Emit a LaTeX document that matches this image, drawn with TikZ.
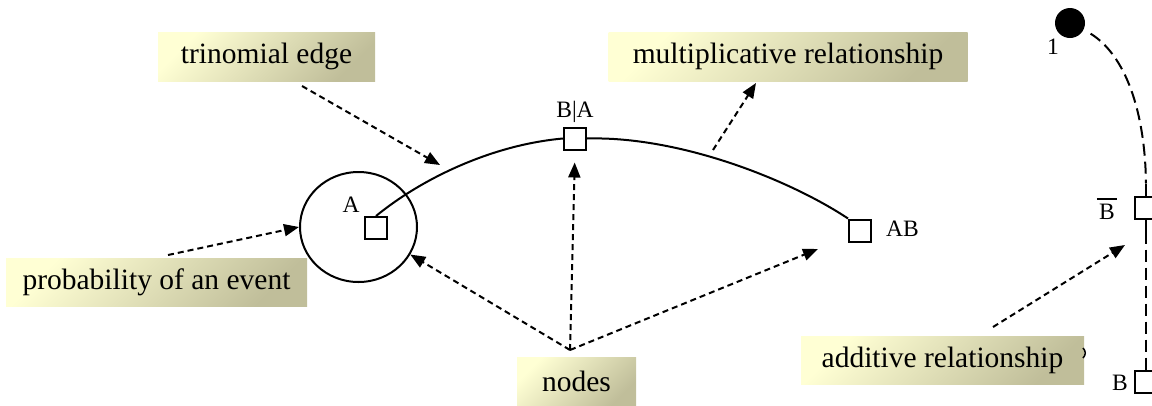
\documentclass[tikz,border=0pt]{standalone}
\usepackage{fontspec}
\setmainfont{Liberation Serif}
\usetikzlibrary{arrows.meta,shapes.geometric}

\definecolor{boxlight}{RGB}{255,255,212}
\definecolor{boxdark}{RGB}{192,190,154}

\begin{document}
\begin{tikzpicture}[x=1pt,y=-1pt,
  callout/.style={shade, top color=boxlight, bottom color=boxdark, shading angle=45,
    draw=none, inner sep=0pt, font=\fontsize{29.5}{32}\selectfont},
  state/.style={draw, line width=2pt, fill=white, minimum size=22pt, inner sep=0pt},
  small/.style={font=\fontsize{23.5}{26}\selectfont, inner sep=0pt},
  pointer/.style={line width=2pt, dash pattern=on 6pt off 4pt,
    -{Triangle[length=15pt,width=12pt]}},
  edgeline/.style={line width=2pt},
  longdash/.style={line width=2pt, dash pattern=on 12pt off 6pt}]
\useasboundingbox (0,0) rectangle (1152,405);

% explanatory callouts
\node[callout, minimum width=217pt, minimum height=49pt] (trin) at (266.5,56.5) {trinomial edge};
\node[callout, minimum width=359pt, minimum height=49pt] (mult) at (788,56.5) {multiplicative relationship};
\node[callout, minimum width=301pt, minimum height=48pt] (prob) at (156.5,282) {probability of an event};
\node[callout, minimum width=283pt, minimum height=48pt] (addv) at (942.5,360) {additive relationship};
\node[callout, minimum width=119pt, minimum height=48pt] (nds) at (576.5,381) {nodes};

% event and tree nodes
\node[draw, ellipse, line width=2pt, minimum width=117pt, minimum height=110pt] (evt) at (358.5,227) {};
\node[state] (sqA) at (376,228) {};
\node[state] (sqBA) at (575,138.5) {};
\node[state] (sqAB) at (860,230.5) {};
\node[small] (lA) at (351,205) {A};
\node[small] (lBA) at (575,112) {B|A};
\node[small, anchor=west] (lAB) at (886,229) {AB};

% trinomial edge
\draw[edgeline] (sqA.north) .. controls (420,180) and (490,145) .. (sqBA.west);
\draw[edgeline] (sqBA.east) .. controls (680,136) and (790,180) .. (sqAB.north west);

% pointers
\coordinate (hub) at (570,350);
\coordinate (sTrin) at (302,86);
\coordinate (tTrin) at (440,165);
\coordinate (sMul) at (713,150);
\coordinate (tMul) at (756,83);
\coordinate (sProb) at (168,255);
\coordinate (tAB) at (818,249);
\coordinate (sAdd) at (993,327);
\coordinate (tAdd) at (1125,245);

\draw[pointer] (sTrin) -- (tTrin);
\draw[pointer] (sMul) -- (tMul);
\draw[pointer] (sProb) -- (evt.west);
\draw[pointer] (hub) -- (evt.-28);
\draw[pointer, shorten >=12pt] (hub) -- (sqBA.south);
\draw[pointer] (hub) -- (tAB);
\draw[pointer] (sAdd) -- (tAdd);

% additive branch on the right
\node[circle, fill=black, minimum size=30pt, inner sep=0pt] (one) at (1070,23) {};
\node[small] (l1) at (1053,47) {1};
\node[state] (sqNB) at (1146,207.5) {};
\node[state] (sqB) at (1146,382) {};
\node[small] (lNB) at (1107,212) {B};
\draw[line width=1.4pt] ([xshift=-2pt,yshift=5pt]lNB.north west) -- ([xshift=2pt,yshift=5pt]lNB.north east);
\node[small] (lB) at (1120,383) {B};

\draw[edgeline] (sqNB.north) -- ++(0,-12) coordinate (nbTop);
\draw[edgeline] (sqNB.south) -- ++(0,12) coordinate (nbBot);
\draw[edgeline] (sqB.north) -- ++(0,-12) coordinate (bTop);
\draw[longdash, shorten <=8pt] (one.-25) .. controls (1125,55) and (1145,110) .. (nbTop);
\draw[longdash] (nbBot) -- (bTop);
\draw[line width=1.5pt] (1083,348) .. controls (1086,351) and (1086,355) .. (1083,358);
\end{tikzpicture}
\end{document}
